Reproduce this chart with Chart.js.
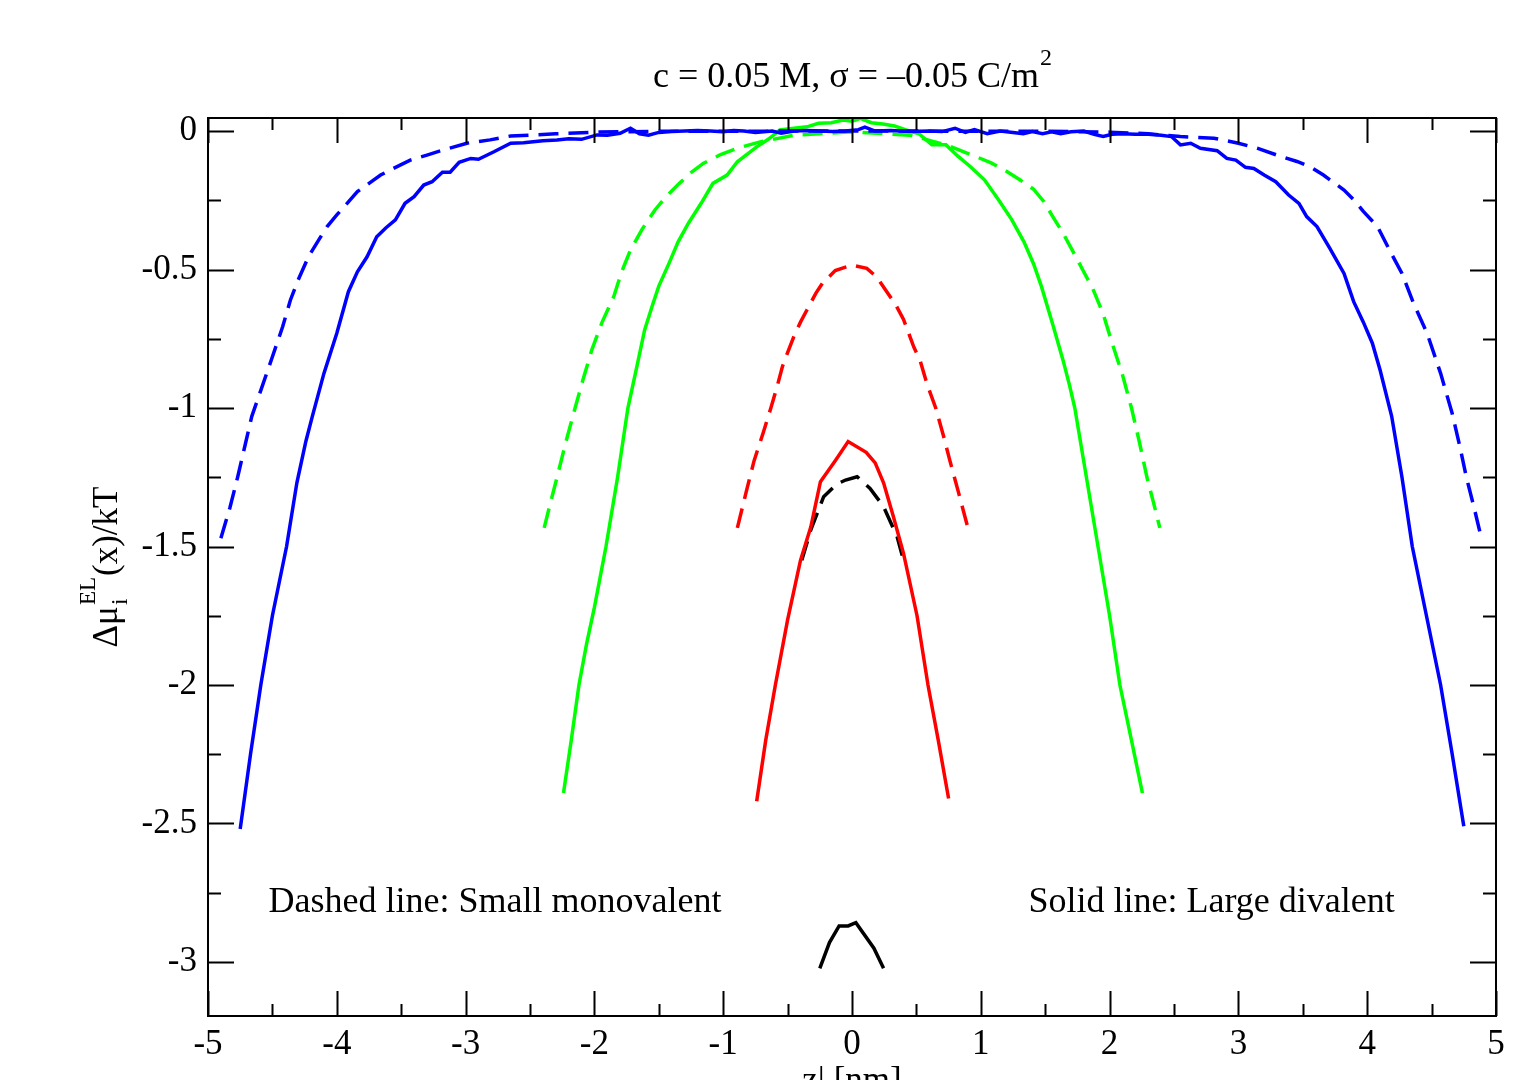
<!DOCTYPE html>
<html>
<head>
<meta charset="utf-8">
<script src="https://cdn.jsdelivr.net/npm/chart.js@4.4.1/dist/chart.umd.min.js"></script>
<style>
  html, body { margin: 0; padding: 0; background: #fff; overflow: hidden; }
  #wrap { width: 1525px; height: 1080px; }
</style>
</head>
<body>
<div id="wrap"><canvas id="chart"></canvas></div>
<script>
// tick labels
const xTicks = [-5, -4, -3, -2, -1, 0, 1, 2, 3, 4, 5];
const yTicks = [0, -0.5, -1, -1.5, -2, -2.5, -3];

// blue, large divalent (solid)
const blueSolidX = [-4.75, -4.67, -4.59, -4.50, -4.39, -4.31, -4.24, -4.19, -4.10, -4.00, -3.91, -3.84, -3.765, -3.69, -3.62, -3.545, -3.47, -3.40, -3.325, -3.26, -3.18, -3.12, -3.05, -2.96, -2.90, -2.78, -2.65, -2.55, -2.40, -2.29, -2.20, -2.10, -1.98, -1.90, -1.80, -1.72, -1.65, -1.58, -1.50, -1.40, -1.30, -1.20, -1.10, -1.00, -0.92, -0.84, -0.75, -0.62, -0.55, -0.45, -0.35, -0.25, -0.15, -0.05, 0.05, 0.10, 0.18, 0.30, 0.45, 0.60, 0.70, 0.80, 0.88, 0.95, 1.05, 1.15, 1.25, 1.33, 1.40, 1.48, 1.55, 1.62, 1.70, 1.80, 1.88, 1.95, 2.02, 2.10, 2.20, 2.30, 2.40, 2.48, 2.55, 2.63, 2.705, 2.835, 2.91, 2.98, 3.055, 3.12, 3.20, 3.29, 3.39, 3.47, 3.53, 3.61, 3.71, 3.82, 3.895, 3.97, 4.04, 4.10, 4.19, 4.27, 4.35, 4.46, 4.57, 4.66, 4.75];
const blueSolidY = [-2.52, -2.25, -2.0, -1.75, -1.5, -1.27, -1.12, -1.03, -0.875, -0.73, -0.58, -0.508, -0.454, -0.382, -0.35, -0.321, -0.261, -0.237, -0.195, -0.183, -0.149, -0.149, -0.113, -0.099, -0.102, -0.075, -0.044, -0.042, -0.035, -0.032, -0.028, -0.03, -0.014, -0.015, -0.008, 0.01, -0.01, -0.015, -0.005, -0.002, 0.0, 0.002, 0.0, -0.003, 0.002, 0.0, -0.005, 0.0, -0.008, 0.0, 0.002, 0.0, -0.002, 0.0, 0.005, 0.014, 0.0, 0.002, -0.002, 0.0, -0.002, 0.01, -0.005, 0.005, -0.01, 0.0, -0.005, -0.01, -0.002, -0.01, -0.003, -0.01, -0.003, 0.0, -0.012, -0.02, -0.012, -0.01, -0.012, -0.012, -0.015, -0.02, -0.05, -0.044, -0.062, -0.071, -0.099, -0.105, -0.131, -0.135, -0.159, -0.183, -0.231, -0.261, -0.309, -0.345, -0.424, -0.514, -0.616, -0.69, -0.766, -0.863, -1.03, -1.25, -1.5, -1.75, -2.0, -2.25, -2.51];

// blue, small monovalent (dashed)
const blueDashX = [-4.90, -4.83, -4.77, -4.71, -4.66, -4.58, -4.50, -4.42, -4.36, -4.30, -4.22, -4.14, -4.075, -4.00, -3.92, -3.84, -3.75, -3.66, -3.56, -3.43, -3.30, -3.17, -2.99, -2.81, -2.65, -2.30, -2.00, -1.50, 0.0, 1.50, 2.00, 2.30, 2.55, 2.81, 3.00, 3.145, 3.30, 3.455, 3.56, 3.66, 3.82, 3.90, 3.97, 4.08, 4.18, 4.27, 4.36, 4.465, 4.57, 4.66, 4.72, 4.77, 4.83, 4.89];
const blueDashY = [-1.47, -1.36, -1.25, -1.13, -1.03, -0.923, -0.815, -0.706, -0.61, -0.538, -0.454, -0.393, -0.345, -0.303, -0.261, -0.219, -0.189, -0.159, -0.135, -0.105, -0.087, -0.068, -0.044, -0.032, -0.018, -0.01, -0.004, -0.001, 0.0, -0.001, -0.004, -0.01, -0.02, -0.026, -0.044, -0.062, -0.087, -0.11, -0.13, -0.159, -0.213, -0.25, -0.29, -0.345, -0.436, -0.514, -0.622, -0.73, -0.875, -1.02, -1.14, -1.25, -1.36, -1.477];

// green, large divalent (solid)
const greenSolidX = [-2.24, -2.18, -2.12, -2.06, -2.00, -1.91, -1.82, -1.74, -1.67, -1.61, -1.55, -1.50, -1.42, -1.35, -1.27, -1.17, -1.08, -0.97, -0.89, -0.74, -0.65, -0.56, -0.45, -0.35, -0.26, -0.16, -0.07, 0.0, 0.065, 0.15, 0.24, 0.33, 0.42, 0.52, 0.62, 0.73, 0.82, 0.92, 1.03, 1.14, 1.24, 1.335, 1.41, 1.47, 1.56, 1.64, 1.69, 1.73, 1.82, 1.91, 2.00, 2.08, 2.17, 2.255];
const greenSolidY = [-2.39, -2.2, -2.0, -1.85, -1.72, -1.5, -1.25, -1.0, -0.85, -0.718, -0.63, -0.56, -0.477, -0.40, -0.333, -0.26, -0.189, -0.159, -0.111, -0.057, -0.03, 0.004, 0.01, 0.015, 0.028, 0.03, 0.04, 0.035, 0.046, 0.03, 0.025, 0.018, 0.004, -0.01, -0.05, -0.05, -0.09, -0.129, -0.177, -0.25, -0.32, -0.40, -0.48, -0.56, -0.70, -0.83, -0.92, -1.0, -1.25, -1.5, -1.75, -2.0, -2.2, -2.39];

// green, small monovalent (dashed)
const greenDashX = [-2.39, -2.34, -2.29, -2.22, -2.15, -2.09, -2.02, -1.94, -1.85, -1.79, -1.72, -1.63, -1.53, -1.44, -1.34, -1.25, -1.155, -1.02, -0.89, -0.72, -0.45, 0.0, 0.45, 0.73, 0.95, 1.08, 1.18, 1.30, 1.41, 1.49, 1.56, 1.64, 1.71, 1.79, 1.87, 1.95, 2.02, 2.10, 2.17, 2.23, 2.29, 2.34, 2.39];
const greenDashY = [-1.433, -1.34, -1.25, -1.12, -1.0, -0.90, -0.79, -0.69, -0.598, -0.51, -0.43, -0.355, -0.285, -0.235, -0.189, -0.15, -0.117, -0.085, -0.062, -0.04, -0.015, -0.003, -0.015, -0.05, -0.09, -0.115, -0.14, -0.175, -0.21, -0.255, -0.31, -0.37, -0.43, -0.50, -0.57, -0.66, -0.766, -0.88, -1.0, -1.12, -1.25, -1.34, -1.433];

// red, large divalent (solid)
const redSolidX = [-0.74, -0.67, -0.595, -0.50, -0.40, -0.32, -0.245, -0.13, -0.03, 0.11, 0.18, 0.245, 0.32, 0.40, 0.505, 0.59, 0.67, 0.75];
const redSolidY = [-2.42, -2.2, -2.0, -1.765, -1.55, -1.43, -1.266, -1.19, -1.121, -1.16, -1.198, -1.27, -1.39, -1.525, -1.75, -2.0, -2.2, -2.41];

// red, small monovalent (dashed)
const redDashX = [-0.89, -0.82, -0.76, -0.69, -0.63, -0.58, -0.54, -0.50, -0.45, -0.40, -0.35, -0.28, -0.23, -0.13, 0.0, 0.115, 0.19, 0.27, 0.34, 0.40, 0.48, 0.53, 0.58, 0.65, 0.71, 0.76, 0.83, 0.90];
const redDashY = [-1.433, -1.30, -1.19, -1.09, -1.0, -0.92, -0.85, -0.80, -0.74, -0.69, -0.646, -0.585, -0.55, -0.504, -0.484, -0.496, -0.526, -0.58, -0.628, -0.68, -0.78, -0.83, -0.91, -1.0, -1.10, -1.19, -1.31, -1.433];

// black, large divalent (solid)
const blackSolidX = [-0.25, -0.175, -0.10, -0.03, 0.03, 0.17, 0.245];
const blackSolidY = [-3.023, -2.93, -2.87, -2.87, -2.858, -2.95, -3.023];

// black, small monovalent (dashed)
const blackDashX = [-0.39, -0.32, -0.22, -0.12, -0.05, 0.04, 0.14, 0.245, 0.35, 0.40];
const blackDashY = [-1.55, -1.44, -1.32, -1.275, -1.26, -1.248, -1.29, -1.356, -1.464, -1.55];

const notes = [
  { text: 'Dashed line: Small monovalent', x: -4.53, y: -2.82 },
  { text: 'Solid line: Large divalent', x: 1.37, y: -2.82 },
];

const SERIF = '"Liberation Serif", "DejaVu Serif", serif';
const DASH = [20, 10];

function series(xs, ys, color, dashed) {
  return {
    data: xs.map((x, i) => ({ x, y: ys[i] })),
    borderColor: color,
    borderWidth: 3.5,
    borderDash: dashed ? DASH : [],
    pointRadius: 0,
    showLine: true,
    fill: false,
    tension: 0,
  };
}

// frame, inward ticks, title, axis titles, notes
const decor = {
  id: 'decor',
  afterDatasetsDraw(chart) {
    const { ctx, chartArea: a, scales } = chart;
    const xs = scales.x, ys = scales.y;
    ctx.save();
    ctx.strokeStyle = '#000';
    ctx.lineWidth = 2;
    ctx.strokeRect(a.left, a.top, a.right - a.left, a.bottom - a.top);

    ctx.beginPath();
    for (let v = -5; v <= 5.001; v += 0.5) {
      const px = Math.round(xs.getPixelForValue(v)) + 0.5;
      const len = Math.abs(v % 1) < 1e-6 ? 25 : 12;
      ctx.moveTo(px, a.bottom); ctx.lineTo(px, a.bottom - len);
      ctx.moveTo(px, a.top); ctx.lineTo(px, a.top + len);
    }
    for (let v = 0; v >= -3.001; v -= 0.25) {
      const py = Math.round(ys.getPixelForValue(v)) + 0.5;
      const len = Math.abs((v * 2) % 1) < 1e-6 ? 26 : 13;
      ctx.moveTo(a.left, py); ctx.lineTo(a.left + len, py);
      ctx.moveTo(a.right, py); ctx.lineTo(a.right - len, py);
    }
    ctx.stroke();

    ctx.fillStyle = '#000';
    ctx.textBaseline = 'alphabetic';

    // title
    const t1 = 'c = 0.05 M, \u03c3 = \u20130.05 C/m';
    ctx.font = '36px ' + SERIF;
    const w1 = ctx.measureText(t1).width;
    ctx.font = '24px ' + SERIF;
    const w2 = ctx.measureText('2').width;
    let tx = (a.left + a.right) / 2 - (w1 + w2) / 2;
    ctx.font = '36px ' + SERIF;
    ctx.textAlign = 'left';
    ctx.fillText(t1, tx, 87);
    ctx.font = '24px ' + SERIF;
    ctx.fillText('2', tx + w1 + 1, 65);

    // notes
    ctx.font = '36px ' + SERIF;
    notes.forEach(n => {
      ctx.fillText(n.text, xs.getPixelForValue(n.x), ys.getPixelForValue(n.y));
    });

    // x title (partly below the page edge)
    ctx.textAlign = 'center';
    ctx.textBaseline = 'top';
    ctx.font = '35px ' + SERIF;
    ctx.fillText('z| [nm]', xs.getPixelForValue(0), 1064);

    // y title
    ctx.textAlign = 'left';
    ctx.textBaseline = 'alphabetic';
    const big = '35px ' + SERIF, small = '23px ' + SERIF;
    ctx.font = big; const wa = ctx.measureText('\u0394\u03bc').width;
    const wc = ctx.measureText('(x)/kT').width;
    ctx.font = small; const wb = Math.max(ctx.measureText('EL').width, ctx.measureText('i').width);
    const total = wa + wb + wc;
    ctx.translate(117, 568 + total / 2);
    ctx.rotate(-Math.PI / 2);
    ctx.font = big; ctx.fillText('\u0394\u03bc', 0, 0);
    ctx.font = small;
    ctx.fillText('i', wa + 1, 10);
    ctx.fillText('EL', wa + 1, -22);
    ctx.font = big; ctx.fillText('(x)/kT', wa + wb + 2, 0);
    ctx.restore();
  }
};

new Chart(document.getElementById('chart'), {
  type: 'scatter',
  data: {
    datasets: [
      series(blueDashX, blueDashY, '#0000ff', true),
      series(blueSolidX, blueSolidY, '#0000ff', false),
      series(greenDashX, greenDashY, '#00ff00', true),
      series(greenSolidX, greenSolidY, '#00ff00', false),
      series(redDashX, redDashY, '#ff0000', true),
      series(redSolidX, redSolidY, '#ff0000', false),
      series(blackDashX, blackDashY, '#000000', true),
      series(blackSolidX, blackSolidY, '#000000', false),
    ]
  },
  options: {
    responsive: true,
    maintainAspectRatio: false,
    animation: false,
    layout: { padding: { left: 0, top: 118, right: 29, bottom: 0 } },
    plugins: {
      legend: { display: false },
      tooltip: { enabled: false },
      title: { display: false },
    },
    scales: {
      x: {
        type: 'linear',
        min: -5, max: 5,
        grid: { display: false, drawTicks: false },
        border: { display: false },
        afterBuildTicks: s => { s.ticks = xTicks.map(v => ({ value: v })); },
        afterFit: s => { s.height = 64; },
        ticks: {
          color: '#000',
          font: { family: SERIF, size: 35 },
          padding: 8,
          maxRotation: 0,
          callback: v => String(v),
        },
      },
      y: {
        type: 'linear',
        min: -3.195, max: 0.047,
        grid: { display: false, drawTicks: false },
        border: { display: false },
        afterBuildTicks: s => { s.ticks = yTicks.map(v => ({ value: v })); },
        afterFit: s => { s.width = 208; },
        ticks: {
          color: '#000',
          font: { family: SERIF, size: 35 },
          padding: 11,
          callback: v => String(v),
        },
      },
    },
  },
  plugins: [decor],
});
</script>
</body>
</html>
